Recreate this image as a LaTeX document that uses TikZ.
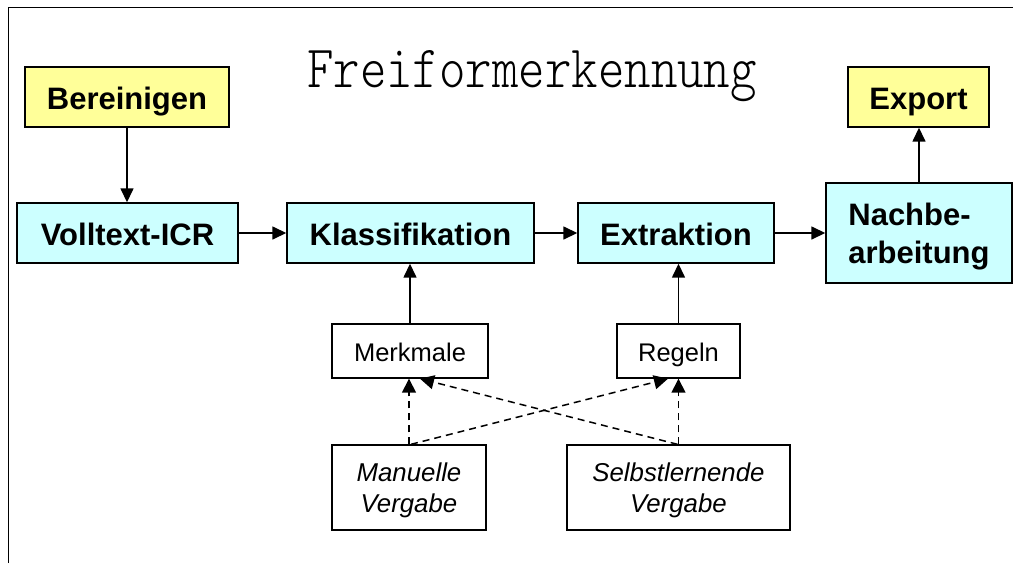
\documentclass[tikz,border=0pt]{standalone}
\usepackage{fontspec}
\setmainfont{Liberation Sans}
\newfontfamily\titlefont{lmmonolt10-regular.otf}
\usepackage{graphicx}
\usetikzlibrary{arrows.meta}
\definecolor{boxyellow}{HTML}{FFFF99}
\definecolor{boxcyan}{HTML}{CCFFFF}
\tikzset{
  base/.style={draw=black, line width=1.4pt, inner sep=0pt, align=center},
  yelbox/.style={base, fill=boxyellow, font=\fontsize{31}{37}\selectfont\bfseries, text height=24pt, text depth=0pt},
  cyanbox/.style={base, fill=boxcyan, font=\fontsize{31}{38}\selectfont\bfseries, text height=24pt, text depth=0pt},
  cyanbig/.style={base, fill=boxcyan, font=\fontsize{31}{38}\selectfont\bfseries, text depth=0pt, align=left},
  smallbox/.style={base, fill=white, font=\fontsize{25.5}{31}\selectfont, text height=20pt, text depth=0pt},
  itbox/.style={base, fill=white, font=\fontsize{25.8}{31}\selectfont\itshape, text depth=0pt},
  arr/.style={line width=1.5pt, -{Triangle[length=14pt,width=13pt]}},
  dasharr/.style={line width=1.5pt, dash pattern=on 7pt off 5pt, -{Triangle[length=14pt,width=14pt]}},
}
\begin{document}
\begin{tikzpicture}[x=1pt,y=-1pt]
\useasboundingbox (0,0) rectangle (1013,563);
\draw[line width=1.3pt] (8.5,563) -- (8.5,7.5) -- (1013,7.5);
\node[anchor=base, inner sep=0pt] (title) at (532,87) {\scalebox{0.84}[1]{\fontsize{60}{60}\selectfont\titlefont Freiformerkennung}};
\node[yelbox, minimum width=204pt, minimum height=60pt] (ber) at (127,97) {Bereinigen};
\node[yelbox, minimum width=141pt, minimum height=60pt] (exp) at (918.5,97) {Export};
\node[cyanbox, minimum width=221pt, minimum height=60pt] (vol) at (127.5,233) {Volltext-ICR};
\node[cyanbox, minimum width=247pt, minimum height=60pt] (kla) at (410.5,233) {Klassifikation};
\node[cyanbox, minimum width=196pt, minimum height=60pt] (ext) at (676,233) {Extraktion};
\node[cyanbig, minimum width=186pt, minimum height=100pt] (nach) at (919,233) {Nachbe-\\arbeitung};
\node[smallbox, minimum width=156pt, minimum height=54pt] (merk) at (410,351) {Merkmale};
\node[smallbox, minimum width=123pt, minimum height=54pt] (reg) at (678.5,351) {Regeln};
\node[itbox, minimum width=154pt, minimum height=85pt] (man) at (409,487.5) {Manuelle\\Vergabe};
\node[itbox, minimum width=223pt, minimum height=85pt] (sel) at (678.5,487.5) {Selbstlernende\\Vergabe};
\draw[arr] (ber.south) -- (ber.south |- vol.north);
\draw[arr] (vol.east) -- (kla.west);
\draw[arr] (kla.east) -- (ext.west);
\draw[arr] (ext.east) -- (nach.west);
\draw[arr] (nach.north) -- (nach.north |- exp.south);
\draw[arr] (merk.north) -- (merk.north |- kla.south);
\draw[arr] (reg.north) -- (reg.north |- ext.south);
\draw[dasharr] (man.north) -- (man.north |- merk.south);
\draw[dasharr] (sel.north) -- (sel.north |- reg.south);
\draw[dasharr] ([xshift=2pt]man.north) -- ([xshift=-10.5pt]reg.south);
\draw[dasharr] ([xshift=-1pt]sel.north) -- ([xshift=10pt]merk.south);
\end{tikzpicture}
\end{document}
